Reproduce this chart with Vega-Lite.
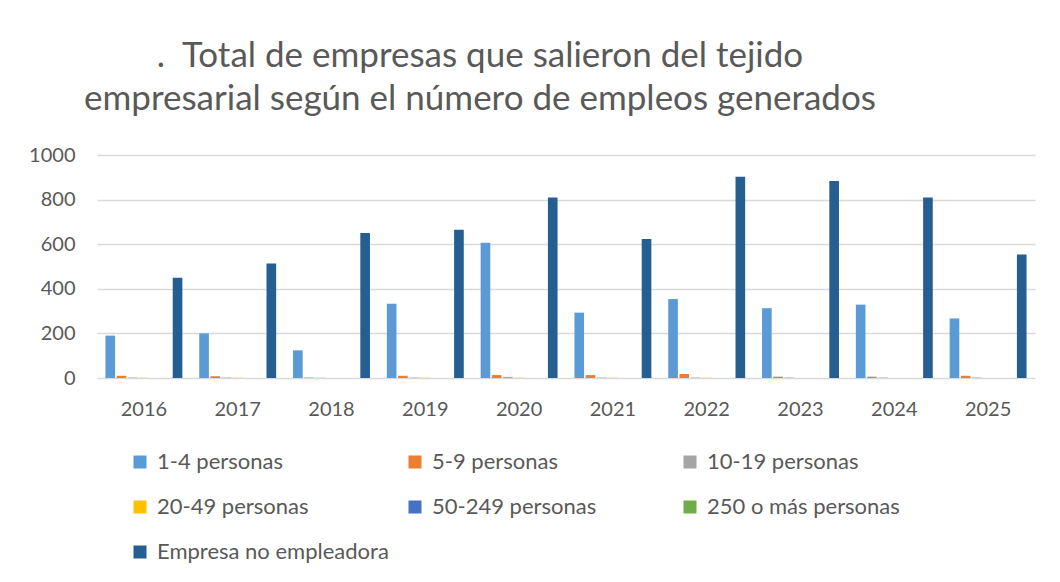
{
  "$schema": "https://vega.github.io/schema/vega-lite/v6.json",
  "width": 938,
  "height": 223,
  "autosize": {"type": "none"},
  "padding": {"left": 97, "top": 155, "right": 25, "bottom": 204},
  "background": "white",
  "title": {
    "text": [".\u00a0\u00a0Total de empresas que salieron del tejido", "empresarial según el número de empleos generados"],
    "anchor": "middle",
    "frame": "group",
    "dx": -86,
    "offset": 28,
    "font": "Lato",
    "fontSize": 35,
    "fontWeight": "normal",
    "color": "#595959",
    "lineHeight": 43
  },
  "data": {
    "values": [
      {"anio": "2016", "grupo": "1-4 personas", "valor": 190},
      {"anio": "2016", "grupo": "5-9 personas", "valor": 10},
      {"anio": "2016", "grupo": "10-19 personas", "valor": 2},
      {"anio": "2016", "grupo": "20-49 personas", "valor": 1},
      {"anio": "2016", "grupo": "50-249 personas", "valor": 0},
      {"anio": "2016", "grupo": "250 o más personas", "valor": 0},
      {"anio": "2016", "grupo": "Empresa no empleadora", "valor": 449},
      {"anio": "2017", "grupo": "1-4 personas", "valor": 200},
      {"anio": "2017", "grupo": "5-9 personas", "valor": 8},
      {"anio": "2017", "grupo": "10-19 personas", "valor": 2},
      {"anio": "2017", "grupo": "20-49 personas", "valor": 1},
      {"anio": "2017", "grupo": "50-249 personas", "valor": 0},
      {"anio": "2017", "grupo": "250 o más personas", "valor": 0},
      {"anio": "2017", "grupo": "Empresa no empleadora", "valor": 514},
      {"anio": "2018", "grupo": "1-4 personas", "valor": 124},
      {"anio": "2018", "grupo": "5-9 personas", "valor": 2},
      {"anio": "2018", "grupo": "10-19 personas", "valor": 1},
      {"anio": "2018", "grupo": "20-49 personas", "valor": 0},
      {"anio": "2018", "grupo": "50-249 personas", "valor": 0},
      {"anio": "2018", "grupo": "250 o más personas", "valor": 0},
      {"anio": "2018", "grupo": "Empresa no empleadora", "valor": 650},
      {"anio": "2019", "grupo": "1-4 personas", "valor": 333},
      {"anio": "2019", "grupo": "5-9 personas", "valor": 10},
      {"anio": "2019", "grupo": "10-19 personas", "valor": 2},
      {"anio": "2019", "grupo": "20-49 personas", "valor": 1},
      {"anio": "2019", "grupo": "50-249 personas", "valor": 0},
      {"anio": "2019", "grupo": "250 o más personas", "valor": 0},
      {"anio": "2019", "grupo": "Empresa no empleadora", "valor": 665},
      {"anio": "2020", "grupo": "1-4 personas", "valor": 606},
      {"anio": "2020", "grupo": "5-9 personas", "valor": 13},
      {"anio": "2020", "grupo": "10-19 personas", "valor": 5},
      {"anio": "2020", "grupo": "20-49 personas", "valor": 1},
      {"anio": "2020", "grupo": "50-249 personas", "valor": 0},
      {"anio": "2020", "grupo": "250 o más personas", "valor": 0},
      {"anio": "2020", "grupo": "Empresa no empleadora", "valor": 809},
      {"anio": "2021", "grupo": "1-4 personas", "valor": 293},
      {"anio": "2021", "grupo": "5-9 personas", "valor": 13},
      {"anio": "2021", "grupo": "10-19 personas", "valor": 2},
      {"anio": "2021", "grupo": "20-49 personas", "valor": 1},
      {"anio": "2021", "grupo": "50-249 personas", "valor": 0},
      {"anio": "2021", "grupo": "250 o más personas", "valor": 0},
      {"anio": "2021", "grupo": "Empresa no empleadora", "valor": 623},
      {"anio": "2022", "grupo": "1-4 personas", "valor": 354},
      {"anio": "2022", "grupo": "5-9 personas", "valor": 18},
      {"anio": "2022", "grupo": "10-19 personas", "valor": 2},
      {"anio": "2022", "grupo": "20-49 personas", "valor": 1},
      {"anio": "2022", "grupo": "50-249 personas", "valor": 0},
      {"anio": "2022", "grupo": "250 o más personas", "valor": 0},
      {"anio": "2022", "grupo": "Empresa no empleadora", "valor": 902},
      {"anio": "2023", "grupo": "1-4 personas", "valor": 313},
      {"anio": "2023", "grupo": "5-9 personas", "valor": 6},
      {"anio": "2023", "grupo": "10-19 personas", "valor": 2},
      {"anio": "2023", "grupo": "20-49 personas", "valor": 0},
      {"anio": "2023", "grupo": "50-249 personas", "valor": 0},
      {"anio": "2023", "grupo": "250 o más personas", "valor": 0},
      {"anio": "2023", "grupo": "Empresa no empleadora", "valor": 883},
      {"anio": "2024", "grupo": "1-4 personas", "valor": 329},
      {"anio": "2024", "grupo": "5-9 personas", "valor": 6},
      {"anio": "2024", "grupo": "10-19 personas", "valor": 2},
      {"anio": "2024", "grupo": "20-49 personas", "valor": 0},
      {"anio": "2024", "grupo": "50-249 personas", "valor": 0},
      {"anio": "2024", "grupo": "250 o más personas", "valor": 0},
      {"anio": "2024", "grupo": "Empresa no empleadora", "valor": 809},
      {"anio": "2025", "grupo": "1-4 personas", "valor": 267},
      {"anio": "2025", "grupo": "5-9 personas", "valor": 10},
      {"anio": "2025", "grupo": "10-19 personas", "valor": 2},
      {"anio": "2025", "grupo": "20-49 personas", "valor": 0},
      {"anio": "2025", "grupo": "50-249 personas", "valor": 0},
      {"anio": "2025", "grupo": "250 o más personas", "valor": 0},
      {"anio": "2025", "grupo": "Empresa no empleadora", "valor": 554}
    ]
  },
  "mark": {"type": "bar"},
  "encoding": {
    "x": {
      "field": "anio",
      "type": "ordinal",
      "title": null,
      "scale": {"paddingInner": 0.18, "paddingOuter": 0.09},
      "axis": {
        "labelAngle": 0,
        "domain": false,
        "ticks": false,
        "labelPadding": 21,
        "labelFont": "Lato",
        "labelFontSize": 20,
        "labelColor": "#595959"
      }
    },
    "xOffset": {
      "field": "grupo",
      "type": "nominal",
      "sort": ["1-4 personas", "5-9 personas", "10-19 personas", "20-49 personas", "50-249 personas", "250 o más personas", "Empresa no empleadora"],
      "scale": {"paddingInner": 0.14, "paddingOuter": 0}
    },
    "y": {
      "field": "valor",
      "type": "quantitative",
      "title": null,
      "scale": {"domain": [0, 1000], "nice": false},
      "axis": {
        "values": [0, 200, 400, 600, 800, 1000],
        "format": "d",
        "domain": false,
        "ticks": false,
        "labelPadding": 22,
        "labelFont": "Lato",
        "labelFontSize": 20,
        "labelColor": "#595959",
        "gridColor": "#d9d9d9",
        "gridWidth": 1.5
      }
    },
    "color": {
      "field": "grupo",
      "type": "nominal",
      "sort": ["1-4 personas", "5-9 personas", "10-19 personas", "20-49 personas", "50-249 personas", "250 o más personas", "Empresa no empleadora"],
      "scale": {
        "domain": ["1-4 personas", "5-9 personas", "10-19 personas", "20-49 personas", "50-249 personas", "250 o más personas", "Empresa no empleadora"],
        "range": ["#5B9BD5", "#ED7D31", "#A5A5A5", "#FFC000", "#4472C4", "#70AD47", "#255E91"]
      },
      "legend": {
        "title": null,
        "orient": "none",
        "legendX": 32,
        "legendY": 296,
        "direction": "horizontal",
        "columns": 3,
        "gridAlign": "all",
        "columnPadding": 15,
        "rowPadding": 23,
        "symbolType": "square",
        "symbolSize": 169,
        "symbolStrokeWidth": 0,
        "labelFont": "Lato",
        "labelFontSize": 22,
        "labelColor": "#595959",
        "labelOffset": 6,
        "labelLimit": 400
      }
    }
  },
  "config": {
    "view": {"stroke": null}
  }
}
